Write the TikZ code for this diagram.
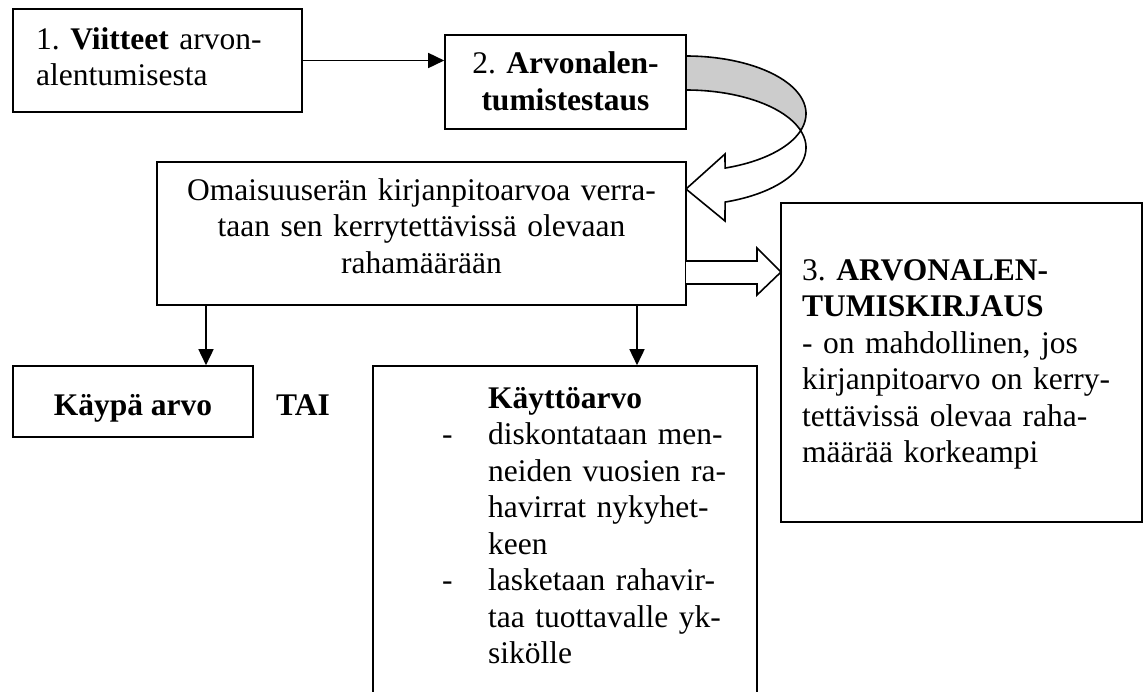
\documentclass[tikz,border=0pt]{standalone}
\usepackage{fontspec}
\setmainfont{Liberation Serif}
\usetikzlibrary{arrows.meta,calc}
\definecolor{ribbon}{gray}{0.8}
\frenchspacing
\begin{document}
\begin{tikzpicture}[x=1pt,y=-1pt,
  box/.style={draw, line width=1.6pt, inner sep=0pt},
  txt/.style={inner sep=0pt, font=\fontsize{31.5}{36.5}\selectfont},
  arr/.style={line width=1.6pt, -{Triangle[length=16pt,width=15pt]}},
  blockarrow/.style={draw, line width=1.6pt, fill=white, line join=miter},
  ribbonback/.style={draw, line width=1.6pt, fill=ribbon},
]
\useasboundingbox (0,0) rectangle (1148,691);
\clip (0,0) rectangle (1148,691);

% boxes
\node[box, minimum width=289pt, minimum height=103pt] (b1) at (157.5,60.5) {};
\node[box, minimum width=241pt, minimum height=94pt] (b2) at (565.5,82) {};
\node[box, minimum width=529pt, minimum height=143pt] (om) at (421.5,233.5) {};
\node[box, minimum width=240pt, minimum height=71pt] (kp) at (133,401.5) {};
\node[box, minimum width=384pt, minimum height=354pt] (ky) at (565,543) {};
\node[box, minimum width=361pt, minimum height=319pt] (b3) at (961.5,362.5) {};

% texts
\node[txt, anchor=base west, text width=260pt, align=left] (t1) at (36,49)
  {\frenchspacing 1. \textbf{Viitteet} arvon-\\alentumisesta};
\node[txt, anchor=base, text width=241pt, align=center] (t2) at (565.5,73.5)
  {\frenchspacing 2. \textbf{Arvonalen-}\\\textbf{tumistestaus}};
\node[txt, anchor=base, text width=529pt, align=center] (tom) at (421.5,200)
  {Omaisuuserän kirjanpitoarvoa verra-\\taan sen kerrytettävissä olevaan\\rahamäärään};
\node[txt, anchor=base, font=\fontsize{31.5}{36.5}\selectfont\bfseries] (tkp) at (133,415) {Käypä arvo};
\node[txt, anchor=base, font=\fontsize{31.5}{36.5}\selectfont\bfseries] (tai) at (303,415) {TAI};
\node[txt, anchor=base west, text width=310pt, align=left] (tky) at (442,408)
  {\hspace*{46pt}\textbf{Käyttöarvo}\\
   \makebox[46pt][l]{-}diskontataan men-\\
   \hspace*{46pt}neiden vuosien ra-\\
   \hspace*{46pt}havirrat nykyhet-\\
   \hspace*{46pt}keen\\
   \makebox[46pt][l]{-}lasketaan rahavir-\\
   \hspace*{46pt}taa tuottavalle yk-\\
   \hspace*{46pt}sikölle};
\node[txt, anchor=base west, text width=335pt, align=left] (t3) at (802,280)
  {\frenchspacing 3. \textbf{ARVONALEN-}\\
   \textbf{TUMISKIRJAUS}\\
   - on mahdollinen, jos\\
   kirjanpitoarvo on kerry-\\
   tettävissä olevaa raha-\\
   määrää korkeampi};

% connectors
\draw[arr] (b1.east) -- (b1.east -| b2.west);
\draw[arr] (206,0 |- om.south) -- (206,0 |- kp.north);
\draw[arr] (637,0 |- om.south) -- (637,0 |- ky.north);

% curved arrow (back, grey)
\path[ribbonback] (686,56)
  -- plot[domain=-90:17.2, samples=60, smooth] ({686+120*cos(\x)},{113.6+57.6*sin(\x)})
  -- plot[domain=-17.2:-90, samples=60, smooth] ({686+120*cos(\x)},{147.6+57.6*sin(\x)})
  -- cycle;
% curved arrow (front, white with head)
\path[blockarrow]
  plot[domain=17.2:71, samples=60, smooth] ({686+120*cos(\x)},{113.6+57.6*sin(\x)})
  -- (725,154) -- (686,189) -- (725,221)
  -- plot[domain=71:-17.2, samples=60, smooth] ({686+120*cos(\x)},{147.6+57.6*sin(\x)})
  -- cycle;

% block arrow to box 3
\path[blockarrow] (686,261) -- (757,261) -- (757,248) -- (781,272) -- (757,295) -- (757,284) -- (686,284);
\end{tikzpicture}
\end{document}
